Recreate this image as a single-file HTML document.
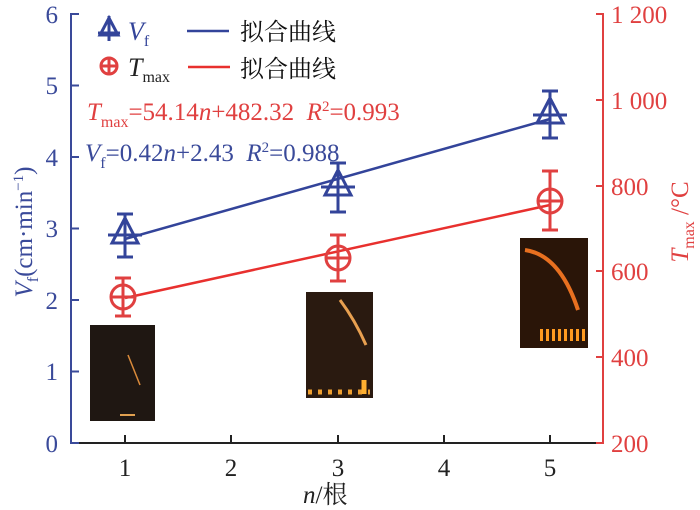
<!DOCTYPE html>
<html><head><meta charset="utf-8"><style>
body{margin:0;background:#fff}
svg{display:block}
text{font-family:"Liberation Serif","Noto Serif CJK SC",serif}
</style></head><body>
<svg width="700" height="510" viewBox="0 0 700 510" xmlns="http://www.w3.org/2000/svg">
<rect x="90" y="325" width="65" height="96" fill="#1f1712"/>
<path d="M128 355 L140 385" stroke="#d98a3a" stroke-width="1.5"/>
<path d="M120 415 h15" stroke="#e0a050" stroke-width="2"/>
<rect x="306" y="292" width="67" height="106" fill="#2a1a10"/>
<path d="M340 300 Q355 320 366 345" stroke="#e8a050" stroke-width="3" fill="none"/>
<path d="M308 392 h62" stroke="#f0a030" stroke-width="5" stroke-dasharray="4 6"/>
<path d="M364 380 v14" stroke="#ffb030" stroke-width="5"/>
<rect x="520" y="238" width="68" height="110" fill="#2a1508"/>
<path d="M525 250 Q560 255 578 310" stroke="#e87020" stroke-width="4" fill="none"/>
<path d="M540 335 h45" stroke="#ff9a20" stroke-width="12" stroke-dasharray="3 3"/>
<path d="M79 14 H71 V443 H79" stroke="#3a4a9a" stroke-width="2" fill="none"/>
<g stroke="#3a4a9a" stroke-width="2">
<line x1="71" y1="85.5" x2="79" y2="85.5"/><line x1="71" y1="157" x2="79" y2="157"/><line x1="71" y1="228.5" x2="79" y2="228.5"/><line x1="71" y1="300" x2="79" y2="300"/><line x1="71" y1="371.5" x2="79" y2="371.5"/>
</g>
<line x1="79" y1="443" x2="597" y2="443" stroke="#222" stroke-width="2"/>
<g stroke="#222" stroke-width="2">
<line x1="125" y1="443" x2="125" y2="435"/><line x1="231" y1="443" x2="231" y2="435"/><line x1="338" y1="443" x2="338" y2="435"/><line x1="444" y1="443" x2="444" y2="435"/><line x1="550" y1="443" x2="550" y2="435"/>
</g>
<path d="M596 14 H603 V443 H596" stroke="#e04040" stroke-width="2" fill="none"/>
<g stroke="#e04040" stroke-width="2">
<line x1="596" y1="100" x2="603" y2="100"/><line x1="596" y1="186" x2="603" y2="186"/><line x1="596" y1="271" x2="603" y2="271"/><line x1="596" y1="357" x2="603" y2="357"/>
</g>
<g fill="#3a4a9a" font-size="25" text-anchor="end">
<text x="58" y="23">6</text><text x="58" y="94">5</text><text x="58" y="166">4</text><text x="58" y="237">3</text><text x="58" y="309">2</text><text x="58" y="380">1</text><text x="58" y="452">0</text>
</g>
<g fill="#222" font-size="25" text-anchor="middle">
<text x="125" y="476">1</text><text x="231" y="476">2</text><text x="338" y="476">3</text><text x="444" y="476">4</text><text x="550" y="476">5</text>
</g>
<g fill="#e04040" font-size="25">
<text x="611" y="23">1 200</text><text x="611" y="109">1 000</text><text x="611" y="195">800</text><text x="611" y="280">600</text><text x="611" y="366">400</text><text x="611" y="452">200</text>
</g>
<text x="303" y="503" font-size="25" fill="#222"><tspan font-style="italic">n</tspan>/根</text>
<text transform="translate(32 232) rotate(-90)" text-anchor="middle" font-size="25" fill="#3a4a9a"><tspan font-style="italic">V</tspan><tspan font-size="16" dy="6">f</tspan><tspan dy="-6">(cm·min</tspan><tspan font-size="15" dy="-9">−1</tspan><tspan dy="9">)</tspan></text>
<text transform="translate(688 222) rotate(-90)" text-anchor="middle" font-size="25" fill="#e04040"><tspan font-style="italic">T</tspan><tspan font-size="16" dy="6">max</tspan><tspan dy="-6"> /°C</tspan></text>
<line x1="125" y1="239" x2="550" y2="119" stroke="#33449a" stroke-width="2.5"/>
<line x1="125" y1="298" x2="550" y2="205" stroke="#e8302e" stroke-width="2.5"/>
<g stroke="#33449a" stroke-width="3" fill="none">
<g transform="translate(125 235)"><path d="M0 -21 V22 M-8 -21 H8 M-8 22 H8 M-17 0 H17 M0 -17 L-13 8 H13 Z"/></g>
<g transform="translate(338 187)"><path d="M0 -24 V25 M-8 -24 H8 M-8 25 H8 M-17 0 H17 M0 -17 L-13 8 H13 Z"/></g>
<g transform="translate(550 115)"><path d="M0 -24 V23 M-8 -24 H8 M-8 23 H8 M-17 0 H17 M0 -17 L-13 8 H13 Z"/></g>
</g>
<g stroke="#e04040" stroke-width="3" fill="none">
<g transform="translate(123 297)"><circle r="12"/><path d="M0 -19 V19 M-8 -19 H8 M-8 19 H8 M-12 0 H12"/></g>
<g transform="translate(338 258)"><circle r="12"/><path d="M0 -23 V23 M-8 -23 H8 M-8 23 H8 M-12 0 H12"/></g>
<g transform="translate(550 201)"><circle r="12"/><path d="M0 -30 V29 M-8 -30 H8 M-8 29 H8 M-12 0 H12"/></g>
</g>
<g stroke="#33449a" stroke-width="3" fill="none" transform="translate(109 29)"><path d="M0 -13 V12 M-11 4 H11 M0 -11 L-9 6 H9 Z"/></g>
<text x="128" y="40" font-size="26" fill="#33449a"><tspan font-style="italic">V</tspan><tspan font-size="16" dy="6">f</tspan></text>
<line x1="187" y1="31" x2="229" y2="31" stroke="#33449a" stroke-width="2.5"/>
<text x="240" y="40" font-size="24" fill="#111" font-family="Noto Sans CJK SC, sans-serif">拟合曲线</text>
<g stroke="#e04040" stroke-width="3" fill="none" transform="translate(109 66)"><circle r="8"/><path d="M-8 0 H8 M0 -8 V8"/></g>
<text x="128" y="76" font-size="26" fill="#222"><tspan font-style="italic">T</tspan><tspan font-size="16" dy="6">max</tspan></text>
<line x1="188" y1="67" x2="230" y2="67" stroke="#e8302e" stroke-width="2.5"/>
<text x="240" y="77" font-size="24" fill="#111" font-family="Noto Sans CJK SC, sans-serif">拟合曲线</text>
<text x="87" y="120" font-size="25" fill="#e04040" xml:space="preserve"><tspan font-style="italic">T</tspan><tspan font-size="16" dy="7">max</tspan><tspan dy="-7">=54.14</tspan><tspan font-style="italic">n</tspan><tspan>+482.32  </tspan><tspan font-style="italic">R</tspan><tspan font-size="15" dy="-9">2</tspan><tspan dy="9">=0.993</tspan></text>
<text x="85" y="161" font-size="25" fill="#3a4a9a" xml:space="preserve"><tspan font-style="italic">V</tspan><tspan font-size="16" dy="7">f</tspan><tspan dy="-7">=0.42</tspan><tspan font-style="italic">n</tspan><tspan>+2.43  </tspan><tspan font-style="italic">R</tspan><tspan font-size="15" dy="-9">2</tspan><tspan dy="9">=0.988</tspan></text>
</svg>
</body></html>
